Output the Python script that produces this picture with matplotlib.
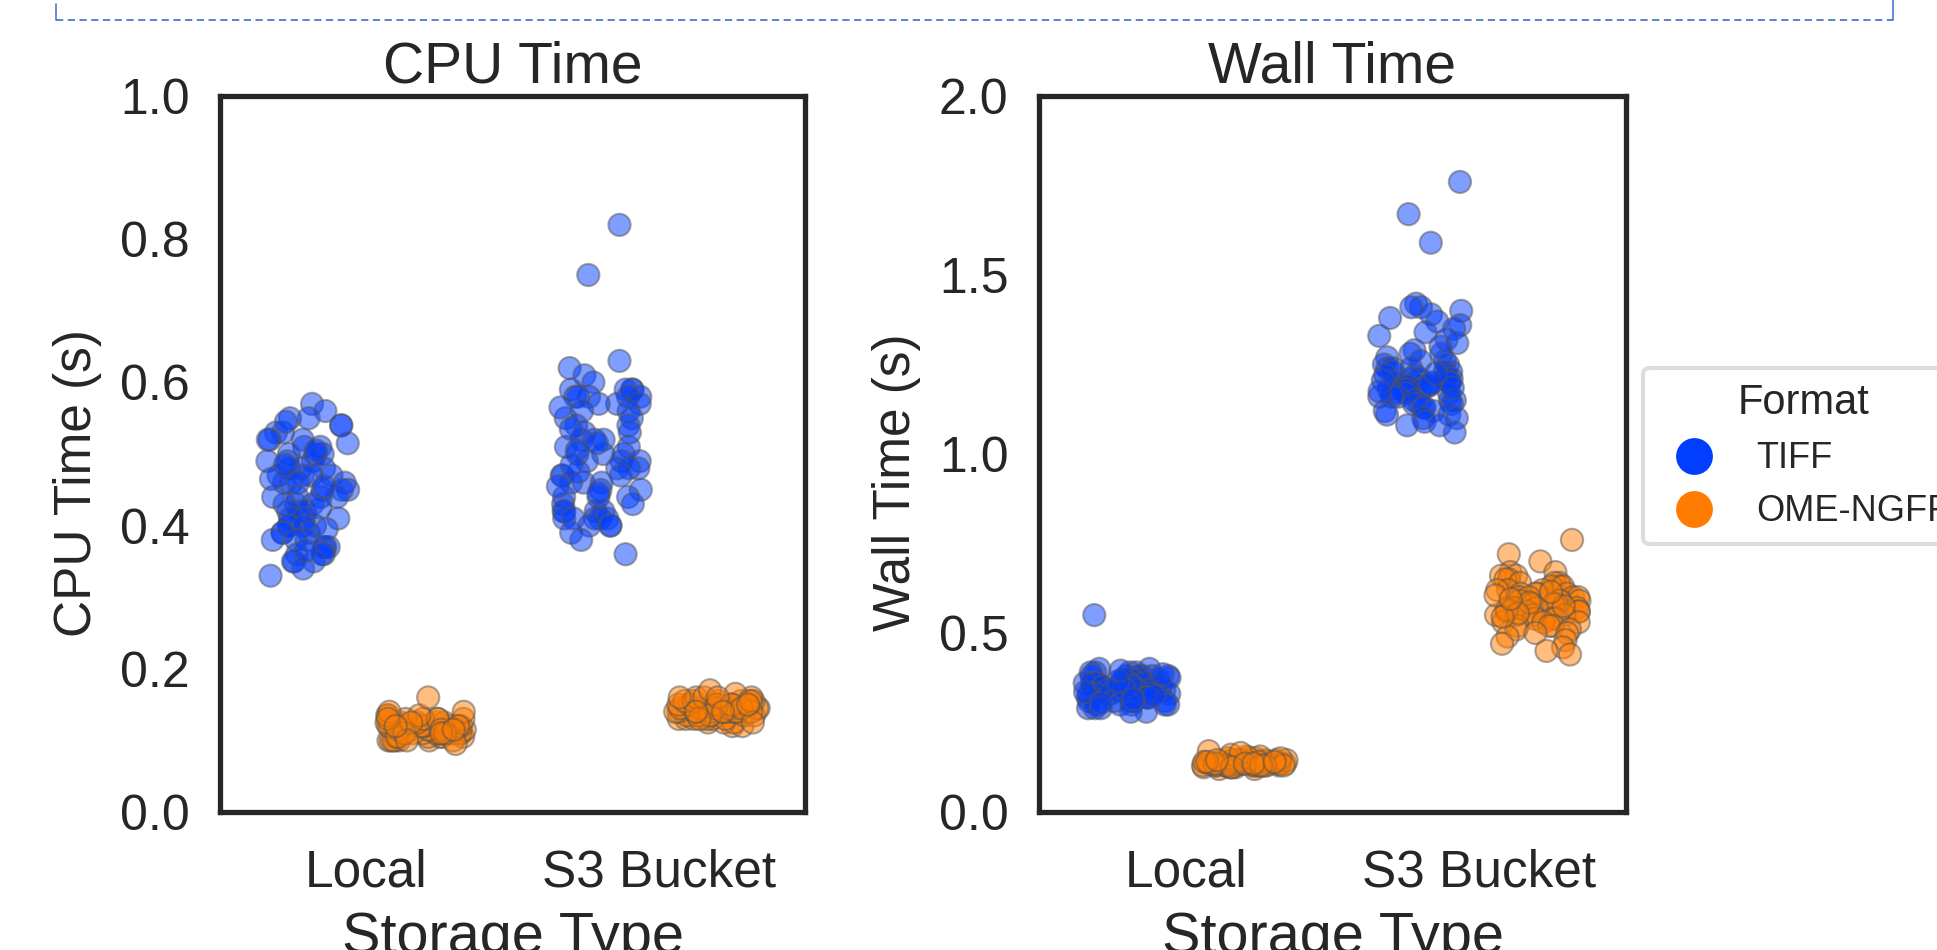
import numpy as np
import pandas as pd
import matplotlib
matplotlib.use("Agg")
import matplotlib.pyplot as plt
from matplotlib.lines import Line2D
import seaborn as sns

storage_types = ["Local", "S3 Bucket"]
formats = ["TIFF", "OME-NGFF"]
format_colors = ["#023eff", "#ff7c00"]

cpu_local_tiff = [0.57, 0.56, 0.55, 0.55, 0.54, 0.54, 0.53, 0.53, 0.52, 0.52, 0.52, 0.51, 0.51, 0.50, 0.50,
                  0.50, 0.49, 0.49, 0.49, 0.48, 0.48, 0.48, 0.47, 0.47, 0.47, 0.47, 0.46, 0.46, 0.46, 0.46,
                  0.45, 0.45, 0.45, 0.44, 0.44, 0.44, 0.44, 0.43, 0.43, 0.43, 0.42, 0.42, 0.42, 0.41, 0.41,
                  0.41, 0.40, 0.40, 0.40, 0.40, 0.39, 0.39, 0.39, 0.38, 0.38, 0.38, 0.37, 0.37, 0.37, 0.36,
                  0.36, 0.36, 0.35, 0.35, 0.35, 0.34, 0.33, 0.545, 0.515, 0.485, 0.455, 0.425, 0.395, 0.365,
                  0.505, 0.465]
cpu_local_ngff = [0.10, 0.10, 0.10, 0.10, 0.10, 0.10, 0.105, 0.105, 0.105, 0.105, 0.105, 0.11, 0.11, 0.11,
                  0.11, 0.11, 0.11, 0.11, 0.11, 0.11, 0.11, 0.11, 0.115, 0.115, 0.115, 0.115, 0.115, 0.115,
                  0.115, 0.115, 0.12, 0.12, 0.12, 0.12, 0.12, 0.12, 0.12, 0.12, 0.12, 0.12, 0.125, 0.125,
                  0.125, 0.125, 0.125, 0.125, 0.13, 0.13, 0.13, 0.13, 0.13, 0.135, 0.135, 0.135, 0.14, 0.14,
                  0.16, 0.10, 0.105, 0.11, 0.115, 0.12, 0.125, 0.13, 0.095, 0.10, 0.11, 0.12, 0.11, 0.115]
cpu_s3_tiff = [0.82, 0.75, 0.63, 0.62, 0.61, 0.60, 0.59, 0.59, 0.59, 0.59, 0.58, 0.58, 0.58, 0.58, 0.58,
               0.57, 0.57, 0.57, 0.56, 0.56, 0.55, 0.55, 0.54, 0.54, 0.53, 0.53, 0.52, 0.52, 0.52, 0.51,
               0.51, 0.50, 0.50, 0.50, 0.49, 0.49, 0.49, 0.48, 0.48, 0.48, 0.47, 0.47, 0.47, 0.46, 0.46,
               0.46, 0.45, 0.45, 0.44, 0.44, 0.44, 0.43, 0.43, 0.42, 0.42, 0.42, 0.42, 0.41, 0.41, 0.41,
               0.41, 0.41, 0.40, 0.40, 0.40, 0.39, 0.38, 0.36, 0.535, 0.505, 0.475, 0.445, 0.455, 0.565,
               0.515, 0.485]
cpu_s3_ngff = [0.12, 0.12, 0.125, 0.125, 0.125, 0.13, 0.13, 0.13, 0.13, 0.13, 0.13, 0.135, 0.135, 0.135,
               0.135, 0.135, 0.135, 0.14, 0.14, 0.14, 0.14, 0.14, 0.14, 0.14, 0.14, 0.145, 0.145, 0.145,
               0.145, 0.145, 0.145, 0.145, 0.15, 0.15, 0.15, 0.15, 0.15, 0.15, 0.15, 0.15, 0.15, 0.15,
               0.155, 0.155, 0.155, 0.155, 0.155, 0.155, 0.16, 0.16, 0.16, 0.16, 0.165, 0.17, 0.14, 0.145,
               0.15, 0.135, 0.13, 0.14, 0.15, 0.145, 0.155, 0.14, 0.125, 0.15, 0.16, 0.14]

wall_local_tiff = [0.55, 0.40, 0.40, 0.39, 0.39, 0.39, 0.39, 0.38, 0.38, 0.38, 0.38, 0.38, 0.38, 0.37, 0.37,
                   0.37, 0.37, 0.37, 0.37, 0.36, 0.36, 0.36, 0.36, 0.36, 0.36, 0.36, 0.35, 0.35, 0.35, 0.35,
                   0.35, 0.35, 0.35, 0.34, 0.34, 0.34, 0.34, 0.34, 0.34, 0.33, 0.33, 0.33, 0.33, 0.33, 0.33,
                   0.32, 0.32, 0.32, 0.32, 0.32, 0.31, 0.31, 0.31, 0.31, 0.31, 0.30, 0.30, 0.30, 0.30, 0.30,
                   0.29, 0.29, 0.29, 0.28, 0.28, 0.355, 0.345, 0.335, 0.365, 0.375, 0.325, 0.315, 0.305,
                   0.385, 0.395]
wall_local_ngff = [0.12, 0.12, 0.125, 0.125, 0.125, 0.125, 0.13, 0.13, 0.13, 0.13, 0.13, 0.13, 0.13, 0.13,
                   0.13, 0.13, 0.13, 0.13, 0.135, 0.135, 0.135, 0.135, 0.135, 0.135, 0.135, 0.135, 0.135,
                   0.135, 0.135, 0.14, 0.14, 0.14, 0.14, 0.14, 0.14, 0.14, 0.14, 0.14, 0.14, 0.145, 0.145,
                   0.145, 0.145, 0.145, 0.145, 0.15, 0.15, 0.15, 0.15, 0.155, 0.155, 0.16, 0.165, 0.17, 0.13,
                   0.135, 0.14, 0.13, 0.135, 0.14, 0.13, 0.125, 0.135, 0.14, 0.145, 0.13, 0.135, 0.14]
wall_s3_tiff = [1.76, 1.67, 1.59, 1.42, 1.41, 1.41, 1.40, 1.39, 1.38, 1.37, 1.36, 1.35, 1.34, 1.33, 1.32,
                1.31, 1.30, 1.29, 1.28, 1.28, 1.27, 1.26, 1.26, 1.25, 1.25, 1.24, 1.24, 1.24, 1.23, 1.23,
                1.23, 1.22, 1.22, 1.22, 1.21, 1.21, 1.21, 1.21, 1.20, 1.20, 1.20, 1.20, 1.19, 1.19, 1.19,
                1.19, 1.18, 1.18, 1.18, 1.18, 1.17, 1.17, 1.17, 1.16, 1.16, 1.16, 1.15, 1.15, 1.15, 1.14,
                1.14, 1.14, 1.13, 1.13, 1.12, 1.12, 1.11, 1.11, 1.10, 1.10, 1.09, 1.08, 1.08, 1.06, 1.195,
                1.205, 1.185, 1.175, 1.225]
wall_s3_ngff = [0.76, 0.72, 0.70, 0.67, 0.67, 0.66, 0.66, 0.65, 0.65, 0.64, 0.64, 0.64, 0.63, 0.63, 0.63,
                0.62, 0.62, 0.62, 0.61, 0.61, 0.61, 0.61, 0.60, 0.60, 0.60, 0.60, 0.59, 0.59, 0.59, 0.59,
                0.58, 0.58, 0.58, 0.58, 0.57, 0.57, 0.57, 0.57, 0.56, 0.56, 0.56, 0.56, 0.55, 0.55, 0.55,
                0.55, 0.54, 0.54, 0.54, 0.54, 0.53, 0.53, 0.53, 0.52, 0.52, 0.52, 0.51, 0.51, 0.50, 0.50,
                0.49, 0.48, 0.47, 0.46, 0.45, 0.44, 0.575, 0.585, 0.565, 0.555, 0.605, 0.615, 0.545, 0.595]

cpu_ticks = [0.0, 0.2, 0.4, 0.6, 0.8, 1.0]
wall_ticks = [0.0, 0.5, 1.0, 1.5, 2.0]


def long_frame(groups, col):
    rows = []
    for (st, fm), vals in groups.items():
        for v in vals:
            rows.append({"Storage Type": st, "Format": fm, col: v})
    return pd.DataFrame(rows)


cpu_df = long_frame({("Local", "TIFF"): cpu_local_tiff, ("Local", "OME-NGFF"): cpu_local_ngff,
                     ("S3 Bucket", "TIFF"): cpu_s3_tiff, ("S3 Bucket", "OME-NGFF"): cpu_s3_ngff}, "CPU Time (s)")
wall_df = long_frame({("Local", "TIFF"): wall_local_tiff, ("Local", "OME-NGFF"): wall_local_ngff,
                      ("S3 Bucket", "TIFF"): wall_s3_tiff, ("S3 Bucket", "OME-NGFF"): wall_s3_ngff}, "Wall Time (s)")

sns.set_style("white")
plt.rcParams["font.family"] = ["Liberation Sans", "DejaVu Sans"]
text_color = "#262626"

W, H = 1937, 950
fig = plt.figure(figsize=(W / 100, H / 100), dpi=100)


def px_axes(x0, y0, x1, y1):
    return fig.add_axes([x0 / W, 1 - y1 / H, (x1 - x0) / W, (y1 - y0) / H])


ax1 = px_axes(220, 96, 805, 812)
ax2 = px_axes(1039, 96, 1626, 812)

np.random.seed(3)
for ax, df, col, title, ticks, top in [
    (ax1, cpu_df, "CPU Time (s)", "CPU Time", cpu_ticks, 1.0),
    (ax2, wall_df, "Wall Time (s)", "Wall Time", wall_ticks, 2.0),
]:
    sns.stripplot(data=df, x="Storage Type", y=col, hue="Format", order=storage_types,
                  hue_order=formats, palette=format_colors, dodge=True, jitter=0.29,
                  size=16, alpha=0.5, edgecolor="#555555", linewidth=1.5, ax=ax, legend=False)
    ax.set_ylim(0, top)
    ax.set_xlim(-0.5, 1.5)
    ax.set_yticks(ticks)
    ax.set_yticklabels([f"{t:.1f}" for t in ticks])
    ax.tick_params(axis="both", length=0, colors=text_color)
    ax.tick_params(axis="y", pad=22, labelsize=36)
    ax.tick_params(axis="x", pad=26, labelsize=37)
    ax.set_title(title, fontsize=41, color=text_color, pad=10)
    ax.set_xlabel("Storage Type", fontsize=41.5, color=text_color, labelpad=10)
    ax.set_ylabel(col, fontsize=37, color=text_color, labelpad=13)
    ax.yaxis.label.set_y(0.46)
    for sp in ax.spines.values():
        sp.set_linewidth(3.8)
        sp.set_color(text_color)
        sp.set_visible(True)

handles = [Line2D([], [], linestyle="none", marker="o", markersize=26.5, markerfacecolor=c,
                  markeredgewidth=0) for c in format_colors]
leg = fig.legend(handles, formats, title="Format", loc="upper left",
                 bbox_to_anchor=(1643 / W, 1 - 368 / H), bbox_transform=fig.transFigure,
                 fontsize=26, title_fontsize=30, frameon=True, fancybox=True,
                 handlelength=2.0, handletextpad=0.72, labelspacing=0.5, borderpad=0.42,
                 borderaxespad=0)
leg.get_frame().set_edgecolor("#d4d4d4")
leg.get_frame().set_linewidth(3)
for t in leg.get_texts():
    t.set_color(text_color)
leg.get_title().set_color(text_color)

# dashed border of the cell above (decoration)
blue = "#4a78d2"
fig.add_artist(Line2D([56 / W, 1893 / W], [1 - 20 / H, 1 - 20 / H], transform=fig.transFigure,
                      color=blue, linewidth=1.3, linestyle=(0, (4, 2.5))))
fig.add_artist(Line2D([56 / W, 56 / W], [1 - 4 / H, 1 - 20 / H], transform=fig.transFigure,
                      color=blue, linewidth=1.2))
fig.add_artist(Line2D([1893 / W, 1893 / W], [1.0, 1 - 20 / H], transform=fig.transFigure,
                      color=blue, linewidth=1.2))

fig.savefig("out.png", dpi=100)
